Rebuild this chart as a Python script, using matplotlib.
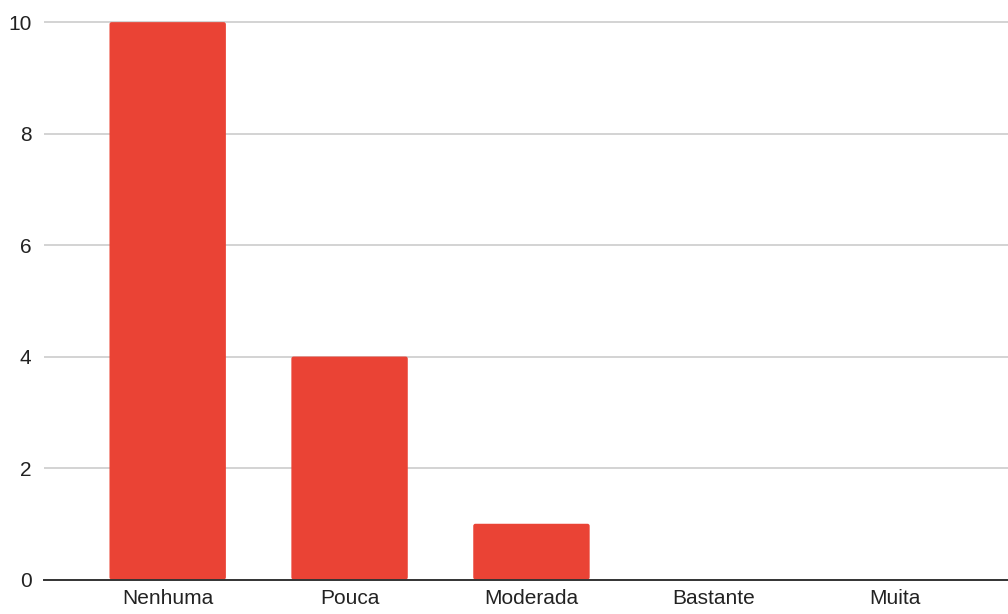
import matplotlib.pyplot as plt
from matplotlib.patches import FancyBboxPatch

plt.rcParams['font.family'] = ['Liberation Sans', 'DejaVu Sans']

categorias = ['Nenhuma', 'Pouca', 'Moderada', 'Bastante', 'Muita']
respostas = [10, 4, 1, 0, 0]
yticks = [0, 2, 4, 6, 8, 10]

fig = plt.figure(figsize=(10.08, 6.14), dpi=100)
ax = fig.add_axes([44 / 1008, 1 - 579.5 / 614, 1 - 44 / 1008, (579.5 - 11) / 614])

x = range(len(categorias))
barras = ax.bar(x, respostas, width=0.64, color='#EA4335', zorder=3)

ax.set_xlim(-0.68, 4.62)
ax.set_ylim(0, 10.2)

# cantos levemente arredondados nas barras
for b in barras:
    if b.get_height() <= 0:
        b.set_visible(False)
        continue
    bx, by = b.get_x(), b.get_y()
    w, h = b.get_width(), b.get_height()
    b.set_visible(False)
    p = FancyBboxPatch((bx, by), w, h,
                       boxstyle='round,pad=0,rounding_size=0.012',
                       mutation_aspect=10.2 / 5.3 * (963 / 568.5),
                       facecolor='#EA4335', edgecolor='none', zorder=3)
    ax.add_patch(p)

ax.set_xticks(list(x))
ax.set_xticklabels(categorias)
ax.set_yticks(yticks)

ax.grid(axis='y', color='#cccccc', linewidth=1.2, zorder=0)
for s in ['top', 'right', 'left']:
    ax.spines[s].set_visible(False)
ax.spines['bottom'].set_color('#333333')
ax.spines['bottom'].set_linewidth(1.4)
ax.spines['bottom'].set_zorder(4)

ax.tick_params(axis='both', length=0, labelsize=15, colors='#222222')
ax.tick_params(axis='y', pad=9)
ax.tick_params(axis='x', pad=7)

fig.savefig('out.png', dpi=100)
